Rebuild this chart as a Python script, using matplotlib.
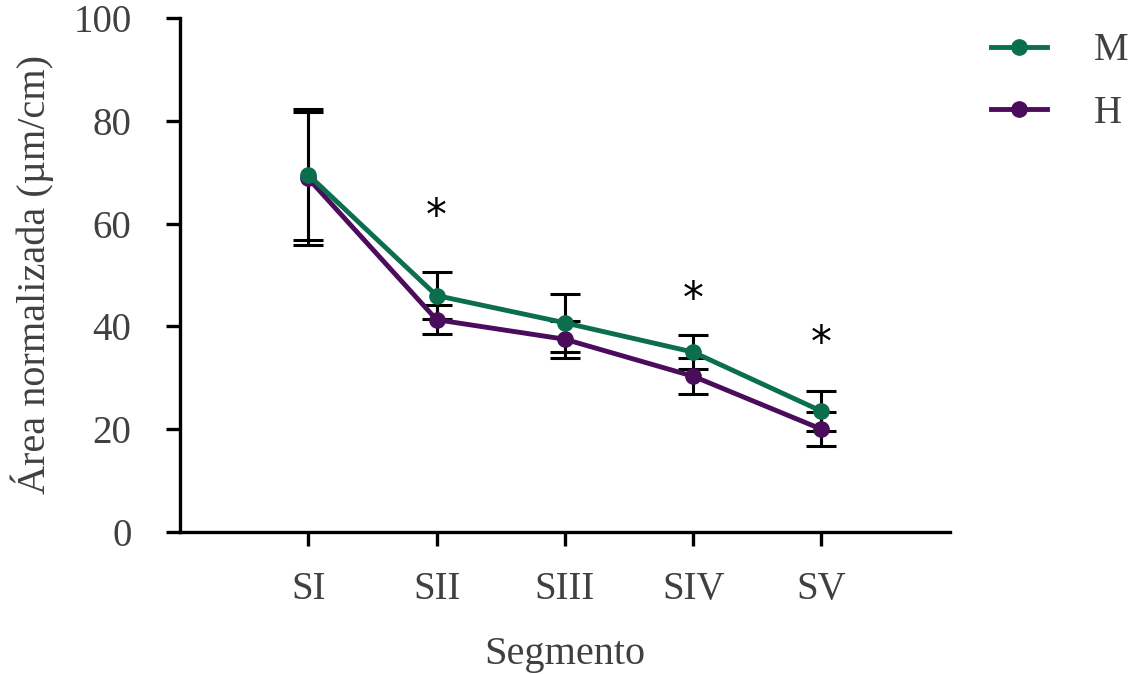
import matplotlib.pyplot as plt
import numpy as np

segmentos = ["SI", "SII", "SIII", "SIV", "SV"]
m_media = [69.5, 46.0, 40.7, 35.0, 23.5]
m_err = [12.7, 4.6, 5.6, 3.3, 3.9]
h_media = [68.8, 41.3, 37.5, 30.3, 20.0]
h_err = [13.0, 2.8, 3.6, 3.5, 3.3]
asteriscos = {1: 61.3, 3: 45.1, 4: 36.6}

verde = "#0b6e4e"
morado = "#4b0c5c"
gris = "#404040"

plt.rcParams["font.family"] = ["Liberation Serif", "DejaVu Serif"]

fig = plt.figure(figsize=(11.32, 6.74), dpi=100)
ax = fig.add_axes([0.159, 0.2107, 0.68, 0.7626])

x = np.arange(len(segmentos))

ax.errorbar(x, h_media, yerr=h_err, fmt="none", ecolor="black", elinewidth=2.2,
            capsize=11, capthick=2.2, zorder=2)
ax.errorbar(x, m_media, yerr=m_err, fmt="none", ecolor="black", elinewidth=2.2,
            capsize=11, capthick=2.2, zorder=2)
ax.plot(x, h_media, color=morado, lw=3.5, marker="o", ms=11, label="H", zorder=3)
ax.plot(x, m_media, color=verde, lw=3.5, marker="o", ms=11, label="M", zorder=4)

for i, yv in asteriscos.items():
    ax.text(x[i], yv, "*", ha="center", va="center", fontsize=30, color="black",
            family="DejaVu Sans")

ax.set_xlim(-1, 5)
ax.set_ylim(0, 100)
ax.set_yticks([0, 20, 40, 60, 80, 100])
ax.set_xticks(x)
ax.set_xticklabels(segmentos)

for s in ["top", "right"]:
    ax.spines[s].set_visible(False)
for s in ["left", "bottom"]:
    ax.spines[s].set_linewidth(2.4)

ax.tick_params(axis="both", direction="out", length=10, width=2.4,
               labelsize=28, labelcolor=gris)
ax.tick_params(axis="y", pad=25)
ax.tick_params(axis="x", pad=18)

ax.set_ylabel("Área normalizada (µm/cm)", fontsize=29, color=gris, labelpad=14)
ax.set_xlabel("Segmento", fontsize=29, color=gris, labelpad=20)

handles, labels = ax.get_legend_handles_labels()
leg = fig.legend(handles[::-1], labels[::-1], loc="upper right",
                 bbox_to_anchor=(0.997, 0.952), frameon=False, fontsize=28,
                 borderpad=0, borderaxespad=0,
                 labelspacing=0.65, handlelength=1.45, handletextpad=1.2)
for t in leg.get_texts():
    t.set_color(gris)

fig.savefig("out.png", dpi=100)
